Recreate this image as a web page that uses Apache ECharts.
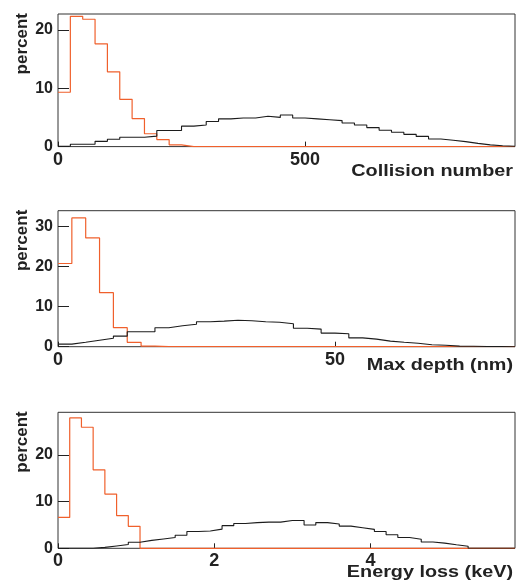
<!DOCTYPE html>
<html>
<head>
<meta charset="utf-8">
<script src="https://cdn.jsdelivr.net/npm/echarts@6/dist/echarts.min.js"></script>
<style>
  html, body { margin: 0; padding: 0; background: #fff; }
  #chart { width: 526px; height: 585px; }
</style>
</head>
<body>
<div id="chart"></div>
<script>
// bin widths of the three histograms
const binWidth1 = 25;    // collision number
const binWidth2 = 2.5;   // max depth (nm)
const binWidth3 = 0.15;  // energy loss (keV)

// percent per bin
const orange1 = [9.3, 22.3, 21.8, 17.6, 12.8, 8.1, 4.8, 2.2, 1.2, 0.3,
  0, 0, 0, 0, 0, 0, 0, 0, 0, 0, 0, 0, 0, 0, 0, 0, 0, 0, 0, 0, 0, 0, 0, 0, 0, 0, 0];
const black1 = [0.05, 0.4, 0.4, 0.9, 1.25, 1.6, 1.6, 1.8, 2.75, 2.75, 3.5, 3.7, 4.3,
  4.75, 4.9, 4.9, 5.2, 5.0, 5.4, 4.9, 4.75, 4.6, 4.45, 4.05, 3.7, 3.25, 2.8, 2.45,
  2.1, 1.75, 1.3, 1.1, 0.85, 0.55, 0.3, 0.15, 0.05];

const orange2 = [20.8, 32.2, 27.2, 13.5, 4.75, 1.1, 0.15,
  0, 0, 0, 0, 0, 0, 0, 0, 0, 0, 0, 0, 0, 0, 0, 0, 0, 0, 0, 0, 0, 0, 0, 0, 0, 0];
const black2 = [0.65, 1.1, 1.6, 2.1, 2.65, 3.75, 3.75, 4.75, 5.25, 5.6, 6.25, 6.4,
  6.6, 6.5, 6.25, 6.1, 5.75, 4.6, 4.4, 3.4, 3.25, 2.2, 1.9, 1.4, 1.1, 0.85, 0.5,
  0.35, 0.15, 0.1, 0.05, 0.05, 0];

const orange3 = [6.6, 27.9, 25.9, 16.8, 11.6, 7.0, 4.7,
  0, 0, 0, 0, 0, 0, 0, 0, 0, 0, 0, 0, 0, 0, 0, 0, 0, 0, 0, 0, 0, 0, 0, 0, 0, 0, 0, 0, 0, 0, 0, 0];
const black3 = [0, 0, 0, 0.2, 0.5, 0.8, 1.3, 1.7, 2.0, 2.3, 2.8, 3.6, 3.7, 4.1, 4.85,
  5.3, 5.5, 5.6, 5.6, 5.95, 5.95, 5.0, 5.5, 5.2, 4.75, 4.4, 4.05, 3.6, 2.9, 2.3,
  1.95, 1.35, 1.1, 0.75, 0.45, 0, 0, 0, 0];

// axis ranges / tick steps
const xMax = [925, 82.5, 5.85];
const xStep = [500, 50, 2];
const yMax = [22.7, 34, 29.1];
const yStep = [10, 10, 10];
const xTitles = ["Collision number", "Max depth (nm)", "Energy loss (keV)"];
const yTitle = "percent";

const FONT = "Liberation Sans, Arial, Helvetica, sans-serif";
const TXT = "#222";
const ORANGE = "#f0602c";
const BLACK = "#1c1c1c";

// grid boxes (px)
const grids = [
  { top: 14, height: 132.6 },
  { top: 210.7, height: 136 },
  { top: 412.3, height: 136 }
];
const titleY = [171, 365, 572];

// step points for a histogram: one point per bin edge
const histPoints = (vals, w) => {
  const pts = vals.map((v, i) => [i * w, v]);
  pts.push([vals.length * w, vals[vals.length - 1]]);
  return pts;
};

const chart = echarts.init(document.getElementById("chart"), null, { renderer: "canvas" });

const option = {
  animation: false,
  backgroundColor: "#fff",
  grid: grids.map(g => ({
    left: 58, right: 11, top: g.top, height: g.height,
    show: true, borderColor: "#333", borderWidth: 1,
    backgroundColor: "transparent",
    outerBoundsMode: "none"
  })),
  xAxis: [0, 1, 2].map(i => ({
    type: "value",
    gridIndex: i,
    min: 0,
    max: xMax[i],
    interval: xStep[i],
    axisLine: { show: false },
    axisTick: { show: true, inside: true, length: 5, lineStyle: { color: "#222" } },
    splitLine: { show: false },
    axisLabel: {
      showMaxLabel: false,
      margin: 4,
      color: TXT,
      fontFamily: FONT,
      fontWeight: "bold",
      fontSize: 18
    }
  })),
  yAxis: [0, 1, 2].map(i => ({
    type: "value",
    gridIndex: i,
    min: 0,
    max: yMax[i],
    interval: yStep[i],
    axisLine: { show: false },
    axisTick: { show: true, inside: true, length: 11, lineStyle: { color: "#222" } },
    splitLine: { show: false },
    axisLabel: {
      showMaxLabel: false,
      margin: 5,
      color: TXT,
      fontFamily: FONT,
      fontWeight: "bold",
      fontSize: 16
    }
  })),
  series: [
    [orange1, black1, binWidth1],
    [orange2, black2, binWidth2],
    [orange3, black3, binWidth3]
  ].flatMap(([o, b, w], i) => [
    {
      type: "line", step: "end", xAxisIndex: i, yAxisIndex: i,
      data: histPoints(o, w), showSymbol: false, silent: true, z: 2,
      lineStyle: { color: ORANGE, width: 1.2 }
    },
    {
      type: "line", step: "end", xAxisIndex: i, yAxisIndex: i,
      data: histPoints(b, w), showSymbol: false, silent: true, z: 3,
      lineStyle: { color: BLACK, width: 1.1 }
    }
  ]),
  graphic: [
    ...xTitles.map((t, i) => ({
      type: "text",
      x: 513, y: titleY[i],
      scaleX: 1.2,
      style: {
        text: t, align: "right", verticalAlign: "middle",
        fill: TXT, font: "bold 16.5px " + FONT
      }
    })),
    ...grids.map(g => ({
      type: "text",
      x: 22.5, y: g.top - 1,
      rotation: Math.PI / 2,
      style: {
        text: yTitle, align: "right", verticalAlign: "middle",
        fill: TXT, font: "bold 17px " + FONT
      }
    }))
  ]
};

chart.setOption(option);
</script>
</body>
</html>
